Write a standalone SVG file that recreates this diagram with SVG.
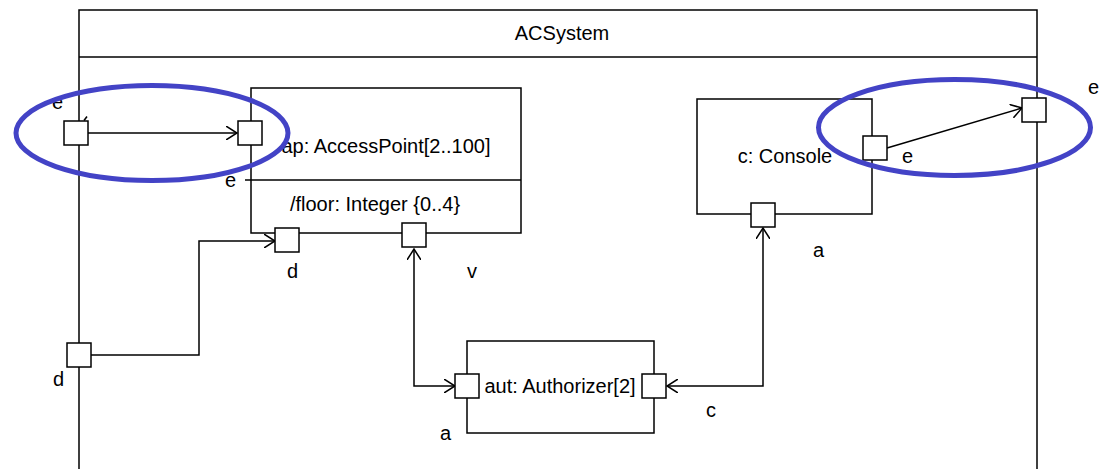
<svg xmlns="http://www.w3.org/2000/svg" width="1102" height="469" viewBox="0 0 1102 469">
  <style>
    .box { fill: #fff; stroke: #000; stroke-width: 1.5; }
    .ln { fill: none; stroke: #000; stroke-width: 1.5; }
    .port { fill: #fff; stroke: #000; stroke-width: 1.5; }
    .t { font-family: "Liberation Sans", Arial, sans-serif; font-size: 20px; fill: #000; }
    .mid { text-anchor: middle; }
    .hl { fill: none; stroke: #4343c6; stroke-width: 5; }
  </style>
  <defs>
    <marker id="open" viewBox="0 0 12 14" refX="11" refY="7" markerWidth="12" markerHeight="14" markerUnits="userSpaceOnUse" orient="auto-start-reverse">
      <path d="M0,0 L11,7 L0,14" fill="none" stroke="#000" stroke-width="1.5"/>
    </marker>
  </defs>

  <!-- enclosing structured class frame -->
  <g id="ACSystem">
    <path class="ln" d="M79,475 V10 H1037 V475"/>
    <line class="ln" x1="79" y1="57" x2="1037" y2="57"/>
    <text class="t mid" x="562" y="40">ACSystem</text>
  </g>

  <!-- part ap -->
  <g id="ap">
    <rect class="box" x="251" y="88" width="270" height="145"/>
    <line class="ln" x1="245" y1="180" x2="521" y2="180"/>
    <text class="t mid" x="386" y="153">ap: AccessPoint[2..100]</text>
    <text class="t mid" x="375" y="211">/floor: Integer {0..4}</text>
  </g>

  <!-- part c -->
  <g id="console">
    <rect class="box" x="697" y="99" width="175" height="115"/>
    <text class="t mid" x="785" y="163">c: Console</text>
  </g>

  <!-- part aut -->
  <g id="aut">
    <rect class="box" x="467" y="341" width="187" height="92"/>
    <text class="t mid" x="560" y="393">aut: Authorizer[2]</text>
  </g>

  <!-- connectors -->
  <g id="connectors">
    <line class="ln" x1="88" y1="133" x2="237" y2="133" marker-end="url(#open)"/>
    <line class="ln" x1="84" y1="120.5" x2="87" y2="116.5"/>
    <path class="ln" d="M91,355 H199 V241 H275" marker-end="url(#open)"/>
    <path class="ln" d="M414,249 V386 H455" marker-start="url(#open)" marker-end="url(#open)"/>
    <path class="ln" d="M763,228 V386 H667" marker-start="url(#open)" marker-end="url(#open)"/>
    <line class="ln" x1="887" y1="148" x2="1022" y2="108" marker-end="url(#open)"/>
  </g>

  <!-- ports -->
  <g id="ports">
    <g id="port-sys-e">
      <rect class="port" x="64" y="121" width="24" height="24"/>
      <text class="t" x="52" y="109">e</text>
    </g>
    <g id="port-sys-d">
      <rect class="port" x="67" y="343" width="24" height="24"/>
      <text class="t" x="53" y="386">d</text>
    </g>
    <g id="port-sys-e2">
      <rect class="port" x="1022" y="98" width="24" height="24"/>
      <text class="t" x="1088" y="94">e</text>
    </g>
    <g id="port-ap-e">
      <rect class="port" x="238" y="121" width="24" height="24"/>
      <text class="t" x="225" y="187">e</text>
    </g>
    <g id="port-ap-d">
      <rect class="port" x="275" y="228" width="24" height="24"/>
      <text class="t" x="287" y="278">d</text>
    </g>
    <g id="port-ap-v">
      <rect class="port" x="402" y="223" width="24" height="24"/>
      <text class="t" x="467" y="278">v</text>
    </g>
    <g id="port-c-e">
      <rect class="port" x="863" y="136" width="24" height="24"/>
      <text class="t" x="902" y="163">e</text>
    </g>
    <g id="port-c-a">
      <rect class="port" x="751" y="203" width="24" height="24"/>
      <text class="t" x="813" y="257">a</text>
    </g>
    <g id="port-aut-a">
      <rect class="port" x="455" y="374" width="24" height="24"/>
      <text class="t" x="440" y="440">a</text>
    </g>
    <g id="port-aut-c">
      <rect class="port" x="642" y="374" width="24" height="24"/>
      <text class="t" x="706" y="417">c</text>
    </g>
  </g>

  <!-- highlight rings -->
  <g id="highlights">
    <ellipse class="hl" cx="152" cy="133" rx="136" ry="47.5"/>
    <ellipse class="hl" cx="954.5" cy="127.5" rx="136" ry="48"/>
  </g>
</svg>
